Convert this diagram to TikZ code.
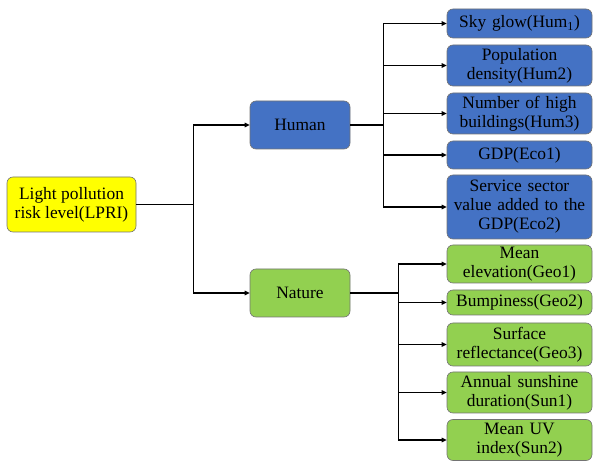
\documentclass[tikz,border=0pt]{standalone}
\usepackage{fontspec}
\setmainfont{Liberation Serif}
\usetikzlibrary{arrows.meta}
\definecolor{hblue}{HTML}{4472C4}
\definecolor{ngreen}{HTML}{92D050}
\definecolor{lyellow}{HTML}{FFFF00}
\tikzset{
  box/.style={rounded corners=6pt, draw=black!55, line width=0.6pt, inner sep=1pt,
    font=\fontsize{17.4}{19}\selectfont, align=center},
  hbox/.style={box, fill=hblue},
  nbox/.style={box, fill=ngreen},
  leaf/.style={minimum width=145pt, text width=143pt},
  arr/.style={line width=1.6pt, -{Triangle[length=5pt,width=4.5pt]}},
}
\begin{document}
\begin{tikzpicture}[x=1pt,y=1pt]
\useasboundingbox (0,0) rectangle (595,461);
\node[box, fill=lyellow, minimum width=129pt, minimum height=55pt] (lpri) at (71.5,256.5) {Light pollution\\risk level(LPRI)};
\node[hbox, minimum width=100pt, minimum height=48pt] (human) at (300,336) {Human};
\node[nbox, minimum width=100pt, minimum height=48pt] (nature) at (300,168) {Nature};
\node[hbox, leaf, minimum height=29pt] (h1) at (519.5,437.5) {Sky glow(Hum\textsubscript{1})};
\node[hbox, leaf, minimum height=41pt] (h2) at (519.5,395.5) {Population\\density(Hum2)};
\node[hbox, leaf, minimum height=41pt] (h3) at (519.5,347.5) {Number of high\\buildings(Hum3)};
\node[hbox, leaf, minimum height=28pt] (h4) at (519.5,306) {GDP(Eco1)};
\node[hbox, leaf, minimum height=64pt] (h5) at (519.5,254) {Service sector\\value added to the\\GDP(Eco2)};
\node[nbox, leaf, minimum height=38pt] (n1) at (519.5,197) {Mean\\elevation(Geo1)};
\node[nbox, leaf, minimum height=25pt] (n2) at (519.5,158.5) {Bumpiness(Geo2)};
\node[nbox, leaf, minimum height=43pt] (n3) at (519.5,116.5) {Surface\\reflectance(Geo3)};
\node[nbox, leaf, minimum height=41pt] (n4) at (519.5,68.5) {Annual sunshine\\duration(Sun1)};
\node[nbox, leaf, minimum height=41pt] (n5) at (519.5,21) {Mean UV\\index(Sun2)};
\draw[arr] (lpri.east) -- ++(57,0) |- (human.west);
\draw[arr] (lpri.east) -- ++(57,0) |- (nature.west);
\foreach \n in {h1,h2,h3,h4,h5}{\draw[arr] (human.east) -- ++(33,0) |- (\n.west);}
\foreach \n in {n1,n2,n3,n4,n5}{\draw[arr] (nature.east) -- ++(48,0) |- (\n.west);}
\end{tikzpicture}
\end{document}
